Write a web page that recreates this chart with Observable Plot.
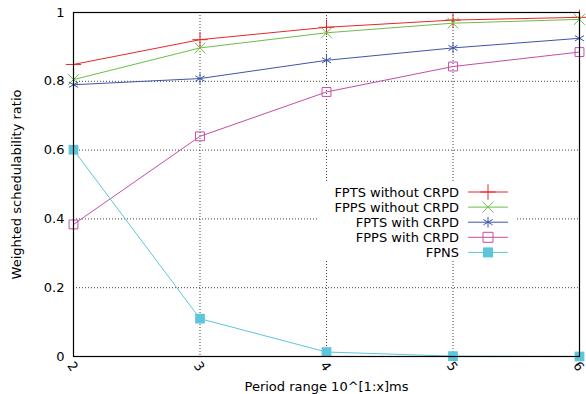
<!DOCTYPE html>
<html>
<head>
<meta charset="utf-8">
<script src="https://cdn.jsdelivr.net/npm/d3@7"></script>
<script src="https://cdn.jsdelivr.net/npm/@observablehq/plot@0.6"></script>
<style>
  html, body { margin: 0; padding: 0; background: #fff; }
  #wrap { position: relative; width: 586px; height: 394px; font-family: "DejaVu Sans", sans-serif; }
  #legend { position: absolute; left: 318px; top: 183px; }
</style>
</head>
<body>
<div id="wrap"></div>
<script>
const periods = [2, 3, 4, 5, 6];
const seriesNames = ["FPTS without CRPD", "FPPS without CRPD", "FPTS with CRPD", "FPPS with CRPD", "FPNS"];
const fptsWithout = [0.849, 0.921, 0.957, 0.978, 0.986];
const fppsWithout = [0.805, 0.897, 0.941, 0.969, 0.980];
const fptsWith    = [0.790, 0.808, 0.861, 0.897, 0.925];
const fppsWith    = [0.384, 0.640, 0.769, 0.843, 0.885];
const fpns        = [0.601, 0.110, 0.013, 0.001, 0.000];
const yTicks = [0, 0.2, 0.4, 0.6, 0.8, 1];
const xTicks = [2, 3, 4, 5, 6];

const colors  = ["#e8262b", "#6cbd45", "#3d56a8", "#c44ea6", "#5ec6da"];
const symbols = ["plus", "times", "asterisk", "square", "square"];
const filled  = [false, false, false, false, true];

const allValues = [fptsWithout, fppsWithout, fptsWith, fppsWith, fpns];
const data = [];
seriesNames.forEach((name, i) => {
  periods.forEach((p, j) => data.push({series: name, idx: i, x: p, y: allValues[i][j]}));
});

const marks = [
  Plot.gridY(yTicks.filter(d => d > 0 && d < 1), {stroke: "#000", strokeOpacity: 0.75, strokeDasharray: "1,2"}),
  Plot.gridX(xTicks.filter(d => d > 2 && d < 6), {stroke: "#000", strokeOpacity: 0.75, strokeDasharray: "1,2"}),
  Plot.axisY({ticks: yTicks, tickSize: 0, tickPadding: 9, fontSize: 13,
    tickFormat: d => (d === 0 || d === 1) ? String(d) : d.toFixed(1),
    label: "Weighted schedulability ratio", labelAnchor: "center", labelArrow: "none", labelOffset: 62}),
  Plot.axisX({ticks: xTicks, tickSize: 0, tickPadding: 6, fontSize: 13, tickRotate: 55, textAnchor: "middle", dx: -1, dy: 4,
    tickFormat: d => String(d),
    label: "Period range 10^[1:x]ms", labelAnchor: "center", labelArrow: "none", labelOffset: 34})
];
seriesNames.forEach((name, i) => {
  const d = data.filter(r => r.idx === i);
  marks.push(Plot.line(d, {x: "x", y: "y", stroke: colors[i], strokeWidth: 1}));
  marks.push(Plot.dot(d, {x: "x", y: "y", symbol: () => symbols[i], r: i === 3 ? 5 : (i === 4 ? 5.5 : 5),
    stroke: filled[i] ? "none" : colors[i], fill: filled[i] ? colors[i] : "none", strokeWidth: 1}));
});
marks.push(Plot.frame({stroke: "#000", strokeWidth: 1.2}));

const chart = Plot.plot({
  width: 586, height: 394,
  marginLeft: 73, marginRight: 7, marginTop: 12, marginBottom: 38,
  x: {domain: [2, 6]},
  y: {domain: [0, 1]},
  style: {fontFamily: "DejaVu Sans, sans-serif", fontSize: "13px", color: "#000", background: "#fff"},
  marks
});
document.getElementById("wrap").appendChild(chart);

// Legend (overlay inside the plot frame, gnuplot-style, with opaque background)
const lg = d3.select("#wrap").append("svg").attr("id", "legend")
  .attr("width", 197).attr("height", 77)
  .style("font-family", "DejaVu Sans, sans-serif").style("font-size", "13px");
lg.append("rect").attr("width", 197).attr("height", 77).attr("fill", "#fff");
const d3sym = {plus: d3.symbolPlus, times: d3.symbolTimes, asterisk: d3.symbolAsterisk, square: d3.symbolSquare};
seriesNames.forEach((name, i) => {
  const g = lg.append("g").attr("transform", `translate(0,${9 + i * 15.1})`);
  g.append("text").attr("x", 141).attr("y", 0).attr("dy", "0.35em").attr("text-anchor", "end").attr("fill", "#000").text(name);
  g.append("line").attr("x1", 150).attr("x2", 190).attr("y1", 0).attr("y2", 0).attr("stroke", colors[i]).attr("stroke-width", 1);
  const sz = symbols[i] === "square" ? 100 : 80;
  const path = d3.symbol(d3sym[symbols[i]], sz)();
  g.append("path").attr("d", path).attr("transform", "translate(170,0)")
    .attr("fill", filled[i] ? colors[i] : "none").attr("stroke", filled[i] ? "none" : colors[i]).attr("stroke-width", 1);
});
</script>
</body>
</html>
